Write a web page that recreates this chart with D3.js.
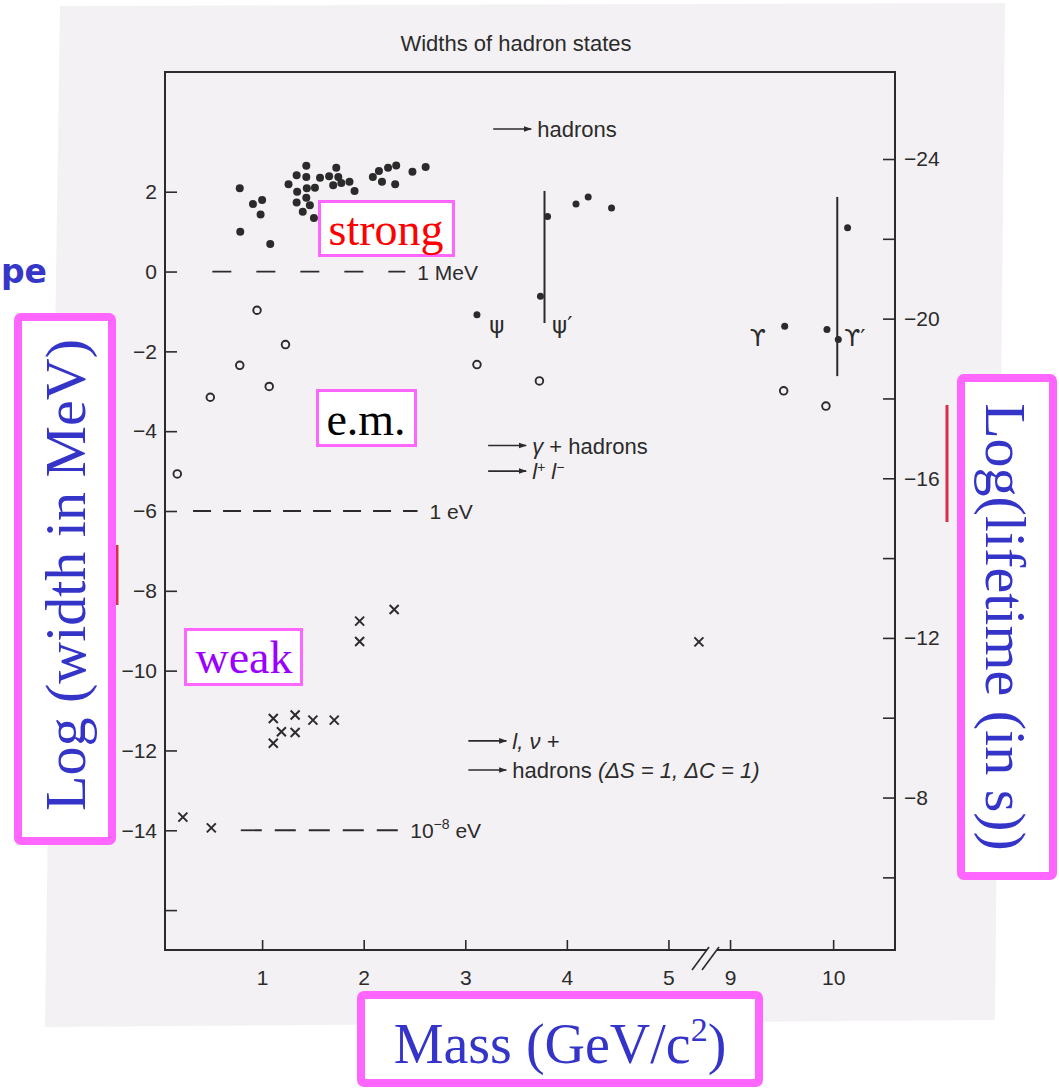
<!DOCTYPE html>
<html>
<head>
<meta charset="utf-8">
<script src="https://cdn.jsdelivr.net/npm/d3@7"></script>
<style>
  body { margin: 0; background: #fff; }
  svg { display: block; }
  .axis text { font-family: "Liberation Sans", Arial, sans-serif; font-size: 21px; fill: #2b2b2b; }
  .axis line { stroke: #2b2b2b; stroke-width: 1.6; }
  .note { font-family: "Liberation Sans", Arial, sans-serif; font-size: 22px; fill: #2b2b2b; }
  .slide { font-family: "Liberation Serif", "Times New Roman", serif; }
</style>
</head>
<body>
<div id="chart"></div>
<script>
// strong decays (filled dots): mass in GeV, log10(width in MeV)
const strongMass = [0.78, 0.785, 0.91, 1.0, 0.985, 1.08,
  1.435, 1.34, 1.26, 1.435, 1.345, 1.44, 1.52, 1.57, 1.435, 1.34, 1.47, 1.40, 1.51,
  1.66, 1.73, 1.75, 1.70, 1.78, 1.86, 1.91,
  2.09, 2.15, 2.18, 2.24, 2.32, 2.31, 2.48, 2.61,
  3.115, 3.81, 3.74, 4.09, 4.21, 4.44,
  9.53, 9.94, 10.05, 10.14];
const strongLogW = [2.09, 1.0, 1.69, 1.79, 1.43, 0.69,
  2.65, 2.41, 2.19, 2.37, 2.0, 2.09, 2.10, 2.35, 1.85, 1.73, 1.66, 1.50, 1.34,
  2.39, 2.60, 2.37, 2.16, 2.22, 2.25, 2.02,
  2.37, 2.52, 2.25, 2.60, 2.66, 2.19, 2.50, 2.62,
  -1.08, 1.38, -0.62, 1.69, 1.87, 1.59,
  -1.37, -1.45, -1.70, 1.10];

// electromagnetic decays (open circles)
const emMass = [0.165, 0.49, 0.78, 0.95, 1.07, 1.23, 3.115, 3.73, 9.52, 9.93];
const emLogW = [-5.07, -3.15, -2.35, -0.97, -2.88, -1.83, -2.33, -2.74, -2.99, -3.37];

// weak decays (crosses)
const weakMass = [0.22, 0.50, 1.11, 1.11, 1.19, 1.325, 1.325, 1.50, 1.71, 1.96, 1.96, 2.30, 5.30];
const weakLogW = [-13.67, -13.94, -11.2, -11.82, -11.53, -11.11, -11.55, -11.24, -11.24, -8.76, -9.27, -8.47, -9.28];

// vertical bars (psi', upsilon')
const barMass = [3.78, 10.04];
const barLow = [-1.29, -2.62];
const barHigh = [2.02, 1.87];

// state labels
const stateText = ["ψ", "ψ′", "ϒ", "ϒ′"];
const stateMass = [3.31, 3.955, 9.27, 10.21];
const stateLogW = [-1.35, -1.35, -1.67, -1.67];

// reference widths
const refLogW = [0, -6, -14];
const refFrom = [0.51, 0.32, 0.79];
const refTo = [2.41, 2.53, 2.34];

// decay-mode notes
const noteMass = [3.275, 3.225, 3.225, 3.03, 3.03];
const noteLogW = [3.57, -4.36, -5.0, -11.76, -12.49];

// ticks
const massTicks = [1, 2, 3, 4, 5, 9, 10];
const widthTicks = [2, 0, -2, -4, -6, -8, -10, -12, -14, -16];
const widthLabelled = [2, 0, -2, -4, -6, -8, -10, -12, -14];
const lifeTicks = [-24, -22, -20, -18, -16, -14, -12, -10, -8, -6];
const lifeLabelled = [-24, -20, -16, -12, -8];
const logHbar = -21.18; // log10(hbar in MeV s)

const W = 1059, H = 1088;
const margin = {top: 72, right: 164, bottom: 138, left: 165};
const width = W - margin.left - margin.right,
      height = H - margin.top - margin.bottom;
const ink = "#2b2b2b", paper = "#f4f1f4";

const svg = d3.select("#chart").append("svg")
    .attr("width", W)
    .attr("height", H);

// scanned page
svg.append("path")
    .attr("d", "M60,6 L1005,3 L995,1020 L45,1027 Z")
    .attr("fill", paper);

// left-over of the slide title
svg.append("text")
    .attr("x", 1).attr("y", 283)
    .style("font-family", "'DejaVu Sans', sans-serif")
    .style("font-weight", "bold")
    .style("font-size", "33px")
    .attr("fill", "#3636c8")
    .text("pe");

const g = svg.append("g")
    .attr("transform", "translate(" + margin.left + "," + margin.top + ")");

// broken mass axis
const x = d3.scaleLinear()
    .domain([0.044, 5.36, 8.757, 10.6])
    .range([0, 540, 540, width]);
const y = d3.scaleLinear().domain([-17, 5]).range([height, 0]);
const yR = d3.scaleLinear().domain([logHbar + 17, logHbar - 5]).range([height, 0]);
const fmt = d3.format("d");

// title
svg.append("text")
    .attr("class", "note")
    .attr("x", 516).attr("y", 51)
    .attr("text-anchor", "middle")
    .text("Widths of hadron states");

// frame
g.append("rect")
    .attr("width", width).attr("height", height)
    .attr("fill", "none").attr("stroke", ink).attr("stroke-width", 2);

g.append("g").attr("class", "axis")
    .call(d3.axisLeft(y).tickValues(widthTicks).tickSize(-12).tickPadding(8)
        .tickFormat(d => widthLabelled.includes(d) ? fmt(d) : ""))
    .call(a => a.select(".domain").remove());

g.append("g").attr("class", "axis")
    .attr("transform", "translate(" + width + ",0)")
    .call(d3.axisRight(yR).tickValues(lifeTicks).tickSize(-12).tickPadding(9)
        .tickFormat(d => lifeLabelled.includes(d) ? fmt(d) : ""))
    .call(a => a.select(".domain").remove());

g.append("g").attr("class", "axis")
    .attr("transform", "translate(0," + height + ")")
    .call(d3.axisBottom(x).tickValues(massTicks).tickSize(-10).tickPadding(20))
    .call(a => a.select(".domain").remove());

// axis break
const bx = x(5.36);
g.append("path")
    .attr("d", `M${bx - 13},${height + 20} L${bx + 4},${height - 3} L${bx + 14},${height - 3} L${bx - 3},${height + 20} Z`)
    .attr("fill", paper);
g.selectAll(".brk").data([0, 10]).enter().append("line")
    .attr("class", "brk")
    .attr("x1", d => bx - 13 + d).attr("y1", height + 20)
    .attr("x2", d => bx + 4 + d).attr("y2", height - 3)
    .attr("stroke", ink).attr("stroke-width", 1.6);

// reference width lines
const dashes = ["19,25", "18,12", "21,13"];
g.selectAll(".ref").data(refLogW).enter().append("line")
    .attr("class", "ref")
    .attr("x1", (d, i) => x(refFrom[i])).attr("x2", (d, i) => x(refTo[i]))
    .attr("y1", d => y(d)).attr("y2", d => y(d))
    .attr("stroke", ink).attr("stroke-width", 1.8)
    .attr("stroke-dasharray", (d, i) => dashes[i]);

const refLab = g.selectAll(".reflab").data(refLogW).enter().append("text")
    .attr("class", "note reflab")
    .attr("x", (d, i) => x(refTo[i]) + 12)
    .attr("y", d => y(d) + 8)
    .style("font-size", "21px");
refLab.filter((d, i) => i === 0).text("1 MeV");
refLab.filter((d, i) => i === 1).text("1 eV");
const r8 = refLab.filter((d, i) => i === 2);
r8.append("tspan").text("10");
r8.append("tspan").attr("dy", -9).style("font-size", "14px").text("−8");
r8.append("tspan").attr("dy", 9).text(" eV");

// bars
g.selectAll(".bar").data(barMass).enter().append("line")
    .attr("class", "bar")
    .attr("x1", d => x(d)).attr("x2", d => x(d))
    .attr("y1", (d, i) => y(barHigh[i])).attr("y2", (d, i) => y(barLow[i]))
    .attr("stroke", ink).attr("stroke-width", 2);

// strong
g.selectAll(".strong").data(strongMass).enter().append("circle")
    .attr("class", "strong")
    .attr("cx", d => x(d)).attr("cy", (d, i) => y(strongLogW[i]))
    .attr("r", (d, i) => i >= 34 ? 3.5 : 4)
    .attr("fill", ink);

// e.m.
g.selectAll(".em").data(emMass).enter().append("circle")
    .attr("class", "em")
    .attr("cx", d => x(d)).attr("cy", (d, i) => y(emLogW[i]))
    .attr("r", 3.8)
    .attr("fill", "none").attr("stroke", ink).attr("stroke-width", 1.9);

// weak
g.selectAll(".weak").data(weakMass).enter().append("path")
    .attr("class", "weak")
    .attr("transform", (d, i) => "translate(" + x(d) + "," + y(weakLogW[i]) + ")")
    .attr("d", "M-4.5,-4.5L4.5,4.5M-4.5,4.5L4.5,-4.5")
    .attr("stroke", ink).attr("stroke-width", 2);

// state names
g.selectAll(".state").data(stateText).enter().append("text")
    .attr("class", "state")
    .attr("x", (d, i) => x(stateMass[i])).attr("y", (d, i) => y(stateLogW[i]) + 8)
    .attr("text-anchor", "middle")
    .style("font-family", "'DejaVu Sans', sans-serif")
    .style("font-size", "23px")
    .attr("fill", ink)
    .text(d => d);

// decay notes with arrows
svg.append("defs").append("marker")
    .attr("id", "head").attr("viewBox", "0 0 10 10")
    .attr("refX", 9).attr("refY", 5)
    .attr("markerWidth", 5).attr("markerHeight", 5)
    .attr("orient", "auto")
    .append("path").attr("d", "M0,1.5L10,5L0,8.5Z").attr("fill", ink);

g.selectAll(".arrow").data(noteMass).enter().append("line")
    .attr("class", "arrow")
    .attr("x1", d => x(d)).attr("x2", d => x(d) + 38)
    .attr("y1", (d, i) => y(noteLogW[i])).attr("y2", (d, i) => y(noteLogW[i]))
    .attr("stroke", ink).attr("stroke-width", 1.6)
    .attr("marker-end", "url(#head)");

const notes = g.selectAll(".nt").data(noteMass).enter().append("text")
    .attr("class", "note nt")
    .attr("x", d => x(d) + 44)
    .attr("y", (d, i) => y(noteLogW[i]) + 8);
notes.filter((d, i) => i === 0).text("hadrons");
const n1 = notes.filter((d, i) => i === 1);
n1.append("tspan").style("font-style", "italic").text("γ");
n1.append("tspan").text(" + hadrons");
const n2 = notes.filter((d, i) => i === 2).style("font-style", "italic");
n2.append("tspan").text("l");
n2.append("tspan").attr("dy", -7).style("font-size", "14px").text("+");
n2.append("tspan").attr("dy", 7).text(" l");
n2.append("tspan").attr("dy", -7).style("font-size", "14px").text("−");
notes.filter((d, i) => i === 3).style("font-style", "italic").text("l, ν +");
const n4 = notes.filter((d, i) => i === 4);
n4.append("tspan").text("hadrons ");
n4.append("tspan").style("font-style", "italic").text("(ΔS = 1, ΔC = 1)");

// slide annotations
const pink = "#ff66ff", blue = "#3434c8";
svg.append("line").attr("x1", 117).attr("x2", 117).attr("y1", 545).attr("y2", 605)
    .attr("stroke", "#d8304c").attr("stroke-width", 3);
svg.append("line").attr("x1", 947).attr("x2", 947).attr("y1", 405).attr("y2", 522)
    .attr("stroke", "#d8304c").attr("stroke-width", 3);

function box(x0, y0, w, h, sw) {
    svg.append("rect")
        .attr("x", x0 + sw / 2).attr("y", y0 + sw / 2)
        .attr("width", w - sw).attr("height", h - sw)
        .attr("rx", sw > 4 ? 3 : 0)
        .attr("fill", "#fff").attr("stroke", pink).attr("stroke-width", sw);
}

box(318, 200, 137, 57, 3);
svg.append("text").attr("class", "slide")
    .attr("x", 386).attr("y", 245).attr("text-anchor", "middle")
    .style("font-size", "46px").attr("fill", "#ff0000").text("strong");

box(316, 389, 101, 58, 3);
svg.append("text").attr("class", "slide")
    .attr("x", 366).attr("y", 435).attr("text-anchor", "middle")
    .style("font-size", "46px").attr("fill", "#000").text("e.m.");

box(184, 628, 119, 58, 3);
svg.append("text").attr("class", "slide")
    .attr("x", 244).attr("y", 673).attr("text-anchor", "middle")
    .style("font-size", "46px").attr("fill", "#9900ff").text("weak");

box(14, 313, 102, 532, 8);
svg.append("text").attr("class", "slide")
    .attr("transform", "translate(65,575) rotate(-90)")
    .attr("text-anchor", "middle").attr("dominant-baseline", "central")
    .style("font-size", "58px").attr("fill", blue).text("Log (width in MeV)");

box(957, 374, 100, 506, 8);
svg.append("text").attr("class", "slide")
    .attr("transform", "translate(1005,627) rotate(90)")
    .attr("text-anchor", "middle").attr("dominant-baseline", "central")
    .style("font-size", "58px").attr("fill", blue).text("Log(lifetime (in s))");

box(357, 991, 406, 96, 8);
const mt = svg.append("text").attr("class", "slide")
    .attr("x", 560).attr("y", 1063).attr("text-anchor", "middle")
    .style("font-size", "56px").attr("fill", blue);
mt.append("tspan").text("Mass (GeV/c");
mt.append("tspan").attr("dy", -22).style("font-size", "34px").text("2");
mt.append("tspan").attr("dy", 22).text(")");
</script>
</body>
</html>
